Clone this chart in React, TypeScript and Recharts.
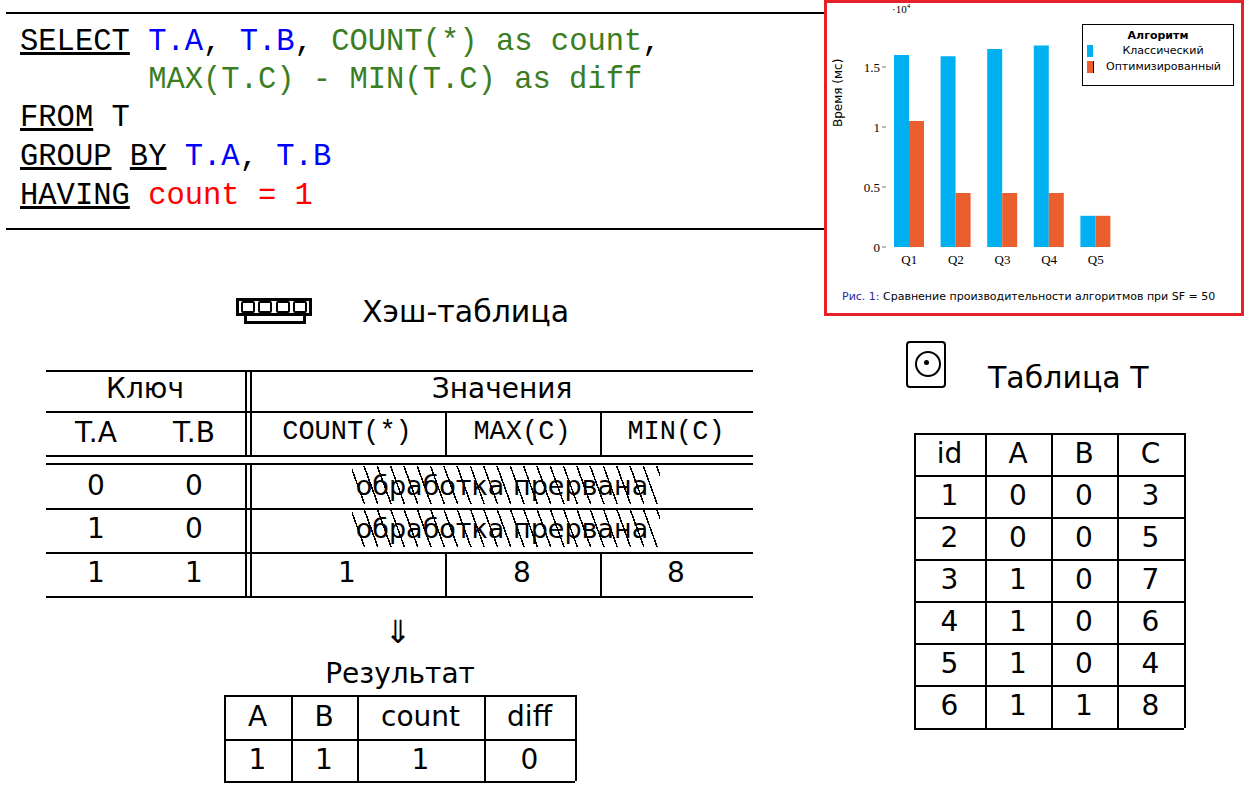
import React from 'react';
import { BarChart, Bar, XAxis, YAxis } from 'recharts';

const queries = ['Q1', 'Q2', 'Q3', 'Q4', 'Q5'];
const classicTimes = [1.6, 1.59, 1.65, 1.68, 0.26];
const optimizedTimes = [1.05, 0.45, 0.45, 0.45, 0.26];
const yTicks = [0, 0.5, 1, 1.5];

const tableT = [
  ['id', 'A', 'B', 'C'],
  ['1', '0', '0', '3'],
  ['2', '0', '0', '5'],
  ['3', '1', '0', '7'],
  ['4', '1', '0', '6'],
  ['5', '1', '0', '4'],
  ['6', '1', '1', '8'],
];
const resultHeader = ['A', 'B', 'count', 'diff'];
const resultRow = ['1', '1', '1', '0'];

const SANS = '"DejaVu Sans", sans-serif';
const MONO = '"Liberation Mono", monospace';

const chartData = queries.map((q, i) => ({
  q,
  classic: classicTimes[i],
  optimized: optimizedTimes[i],
}));

const H = ({ x1, x2, y }: { x1: number; x2: number; y: number }) => (
  <div style={{ position: 'absolute', left: x1, top: y, width: x2 - x1, height: 1.5, background: '#000' }} />
);
const V = ({ x, y1, y2 }: { x: number; y1: number; y2: number }) => (
  <div style={{ position: 'absolute', left: x, top: y1, width: 1.5, height: y2 - y1, background: '#000' }} />
);
const T = ({ x, y, children, size = 28, font = SANS, color = '#000' }: any) => (
  <div
    style={{
      position: 'absolute', left: x - 200, top: y - size * 0.65, width: 400, textAlign: 'center',
      fontFamily: font, fontSize: size, color, lineHeight: 1.3 + 'em', whiteSpace: 'pre',
    }}
  >
    {children}
  </div>
);

const Struck = ({ y }: { y: number }) => (
  <>
    <T x={502} y={y} size={27}>обработка прервана</T>
    <div style={{
      position: 'absolute', left: 352, top: y - 20, width: 308, height: 38,
      backgroundImage: 'repeating-linear-gradient(70deg, transparent 0px, transparent 11px, #000 11px, #000 12.5px)',
    }} />
  </>
);

function Chart() {
  return (
    <div style={{ position: 'absolute', left: 824, top: 0, width: 420, height: 316, boxSizing: 'border-box', border: '3px solid #e8202a', background: '#fff' }}>
      <div style={{ position: 'absolute', left: -3, top: -3 }}>
        <BarChart width={420} height={316} data={chartData} margin={{ top: 7, right: 125, left: 0, bottom: 39 }} barGap={0} barSize={15}>
          <XAxis dataKey="q" axisLine={false} tickLine={false} height={30} tick={{ fill: '#000', fontSize: 13, fontFamily: '"Liberation Serif", serif' }} />
          <YAxis domain={[0, 2]} ticks={yTicks} width={62} axisLine={false} tickSize={4} tickLine={{ stroke: '#777' }}
            tick={{ fill: '#000', fontSize: 13, fontFamily: '"Liberation Serif", serif' }}
            label={{ value: 'Время (мс)', angle: -90, position: 'insideLeft', offset: 14, style: { fontSize: 12, fontFamily: SANS, fill: '#000' } }} />
          <Bar dataKey="classic" fill="#00b0f0" isAnimationActive={false} />
          <Bar dataKey="optimized" fill="#eb5f2f" isAnimationActive={false} />
        </BarChart>
        <div style={{ position: 'absolute', left: 68, top: 2, fontSize: 11, fontFamily: '"Liberation Serif", serif' }}>·10<sup style={{ fontSize: 7 }}>4</sup></div>
        <div style={{ position: 'absolute', left: 258, top: 24, width: 150, height: 60, border: '1px solid #000', fontFamily: SANS, fontSize: 11, background: '#fff' }}>
          <div style={{ textAlign: 'center', fontWeight: 'bold', marginTop: 4 }}>Алгоритм</div>
          <div style={{ display: 'flex', alignItems: 'center', marginTop: 2 }}>
            <span style={{ width: 6, height: 12, background: '#00b0f0', marginLeft: 4 }} />
            <span style={{ flex: 1, textAlign: 'center' }}>Классический</span>
          </div>
          <div style={{ display: 'flex', alignItems: 'center', marginTop: 3 }}>
            <span style={{ width: 6, height: 12, background: '#eb5f2f', marginLeft: 4, borderRight: '1px solid #000' }} />
            <span style={{ flex: 1, textAlign: 'center' }}>Оптимизированный</span>
          </div>
        </div>
        <div style={{ position: 'absolute', left: 18, top: 290, fontFamily: SANS, fontSize: 11, whiteSpace: 'nowrap' }}>
          <span style={{ color: '#2a2aa0' }}>Рис. 1:</span> Сравнение производительности алгоритмов при SF = 50
        </div>
      </div>
    </div>
  );
}

const kw = (s: string) => <span style={{ textDecoration: 'underline' }}>{s}</span>;
const blue = (s: string) => <span style={{ color: '#0000ff' }}>{s}</span>;
const green = (s: string) => <span style={{ color: '#3a7d22' }}>{s}</span>;
const red = (s: string) => <span style={{ color: '#ff0000' }}>{s}</span>;

export default function App() {
  const codeLine = (top: number, content: React.ReactNode) => (
    <div style={{ position: 'absolute', left: 20, top, fontFamily: MONO, fontSize: 30.5, whiteSpace: 'pre', lineHeight: '36px' }}>{content}</div>
  );
  const tCols = [914, 985, 1051, 1117, 1184];
  const tRows = [433, 475, 517, 559, 601, 643, 685, 728];
  const rCols = [224, 291, 357, 484, 575];
  const rRows = [695, 739, 781];
  return (
    <div style={{ position: 'absolute', left: 0, top: 0, width: 1249, height: 790, background: '#fff', overflow: 'hidden' }}>
      <H x1={6} x2={824} y={12} />
      <H x1={6} x2={824} y={228} />
      {codeLine(24, <>{kw('SELECT')} {blue('T.A')}, {blue('T.B')}, {green('COUNT(*) as count')},</>)}
      {codeLine(62, <>{'       '}{green('MAX(T.C) - MIN(T.C) as diff')}</>)}
      {codeLine(100, <>{kw('FROM')} T</>)}
      {codeLine(139, <>{kw('GROUP')} {kw('BY')} {blue('T.A')}, {blue('T.B')}</>)}
      {codeLine(178, <>{kw('HAVING')} {red('count = 1')}</>)}

      <Chart />

      {/* RAM icon */}
      <div style={{ position: 'absolute', left: 236, top: 298, width: 76, height: 18, border: '3px solid #000', boxSizing: 'border-box', display: 'flex', justifyContent: 'space-around', alignItems: 'center' }}>
        {[0, 1, 2, 3].map((i) => <div key={i} style={{ width: 10, height: 8, border: '2px solid #000', borderRadius: 2 }} />)}
      </div>
      <div style={{ position: 'absolute', left: 244, top: 316, width: 62, height: 8, borderLeft: '3px solid #000', borderRight: '3px solid #000', borderBottom: '3px solid #000', boxSizing: 'border-box' }} />
      <div style={{ position: 'absolute', left: 362, top: 294, fontFamily: SANS, fontSize: 30 }}>Хэш-таблица</div>

      {/* hash table */}
      {[370, 411, 455, 463, 508, 552, 596].map((y) => <H key={y} x1={46} x2={753} y={y} />)}
      <V x={245} y1={370} y2={455} /><V x={250} y1={370} y2={455} />
      <V x={245} y1={463} y2={596} /><V x={250} y1={463} y2={596} />
      <V x={445} y1={411} y2={455} /><V x={600} y1={411} y2={455} />
      <V x={445} y1={552} y2={596} /><V x={600} y1={552} y2={596} />
      <T x={145} y={389}>Ключ</T>
      <T x={502} y={389}>Значения</T>
      <T x={96} y={433}>T.A</T><T x={194} y={433}>T.B</T>
      <T x={347} y={433} font={MONO} size={27}>COUNT(*)</T>
      <T x={522} y={433} font={MONO} size={27}>MAX(C)</T>
      <T x={676} y={433} font={MONO} size={27}>MIN(C)</T>
      <T x={96} y={486}>0</T><T x={194} y={486}>0</T><Struck y={486} />
      <T x={96} y={529}>1</T><T x={194} y={529}>0</T><Struck y={529} />
      <T x={96} y={573}>1</T><T x={194} y={573}>1</T>
      <T x={347} y={573}>1</T><T x={522} y={573}>8</T><T x={676} y={573}>8</T>

      <T x={398} y={633} size={32}>⇓</T>
      <T x={400} y={674}>Результат</T>
      {rRows.map((y) => <H key={y} x1={224} x2={575} y={y} />)}
      {rCols.map((x) => <V key={x} x={x} y1={695} y2={781} />)}
      {resultHeader.map((s, i) => <T key={i} x={(rCols[i] + rCols[i + 1]) / 2} y={717}>{s}</T>)}
      {resultRow.map((s, i) => <T key={i} x={(rCols[i] + rCols[i + 1]) / 2} y={760}>{s}</T>)}

      {/* disk icon */}
      <div style={{ position: 'absolute', left: 906, top: 341, width: 40, height: 47, border: '2.5px solid #000', borderRadius: 4, boxSizing: 'border-box' }}>
        <div style={{ position: 'absolute', left: 7, top: 8, width: 22, height: 22, border: '2px solid #000', borderRadius: '50%' }} />
        <div style={{ position: 'absolute', left: 16, top: 17, width: 5, height: 5, background: '#000', borderRadius: '50%' }} />
      </div>
      <div style={{ position: 'absolute', left: 988, top: 360, fontFamily: SANS, fontSize: 30 }}>Таблица T</div>
      {tRows.map((y) => <H key={y} x1={914} x2={1184} y={y} />)}
      {tCols.map((x) => <V key={x} x={x} y1={433} y2={728} />)}
      {tableT.map((row, r) => row.map((s, c) => (
        <T key={r + '-' + c} x={(tCols[c] + tCols[c + 1]) / 2} y={(tRows[r] + tRows[r + 1]) / 2}>{s}</T>
      )))}
    </div>
  );
}
